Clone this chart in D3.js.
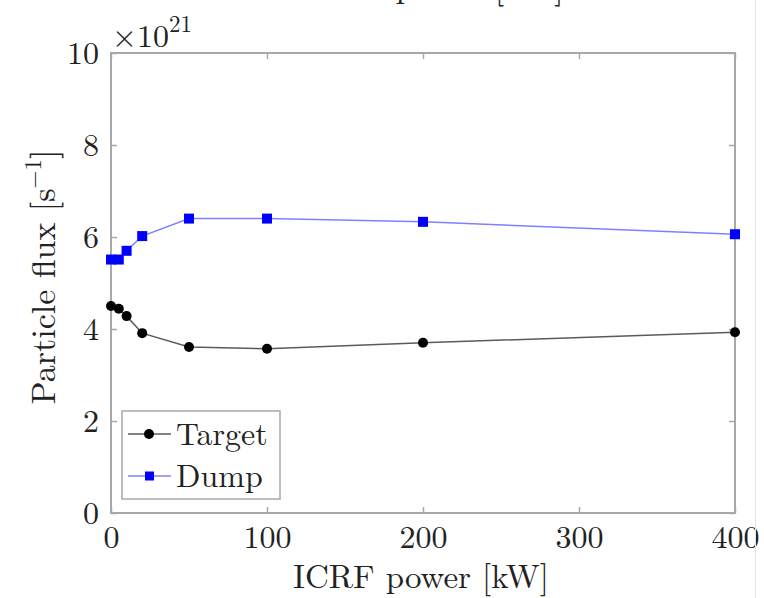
<!DOCTYPE html>
<html><head><meta charset="utf-8">
<script src="https://cdn.jsdelivr.net/npm/d3@7"></script>
<style>
html,body{margin:0;padding:0;background:#fff;}
svg text{font-family:"Latin Modern Roman","CMU Serif","Liberation Serif","DejaVu Serif",serif;fill:#222;}
</style></head>
<body>
<svg id="c" width="764" height="598"></svg>
<script>
const powerKW = [0, 5, 10, 20, 50, 100, 200, 400];
const targetFlux = [4.50, 4.44, 4.28, 3.91, 3.61, 3.57, 3.70, 3.93];
const dumpFlux = [5.51, 5.51, 5.70, 6.02, 6.40, 6.40, 6.33, 6.06];
const xTicks = [0, 100, 200, 300, 400];
const yTicks = [0, 2, 4, 6, 8, 10];
const seriesNames = ["Target", "Dump"];

const svg = d3.select("#c");
const L = 111, R = 735, T = 53, B = 513;
const x = d3.scaleLinear().domain([0, 400]).range([L, R]);
const y = d3.scaleLinear().domain([0, 10]).range([B, T]);
const axisCol = "#a8a8a8";

// cut-off text from the figure above (only its bottom shows)
svg.append("text").attr("x", 432).attr("y", -2).attr("text-anchor", "middle")
  .attr("font-size", 34).text("ICRF power [kW]");

// box
svg.append("rect").attr("x", L).attr("y", T).attr("width", R - L).attr("height", B - T)
  .attr("fill", "none").attr("stroke", axisCol).attr("stroke-width", 2);

function styleAxis(g) {
  g.select(".domain").remove();
  g.selectAll(".tick line").attr("stroke", axisCol).attr("stroke-width", 1.5);
  g.selectAll(".tick text").attr("font-size", 32).attr("fill", "#222");
}
svg.append("g").attr("transform", `translate(0,${B})`)
  .call(d3.axisBottom(x).tickValues(xTicks).tickSize(-6).tickPadding(12).tickFormat(d3.format("d")))
  .call(styleAxis).call(g => g.selectAll(".tick text").attr("dy", "0.71em"));
svg.append("g").attr("transform", `translate(0,${T})`)
  .call(d3.axisTop(x).tickValues(xTicks).tickSize(-6).tickFormat(""))
  .call(styleAxis);
svg.append("g").attr("transform", `translate(${L},0)`)
  .call(d3.axisLeft(y).tickValues(yTicks).tickSize(-6).tickPadding(12).tickFormat(d3.format("d")))
  .call(styleAxis);
svg.append("g").attr("transform", `translate(${R},0)`)
  .call(d3.axisRight(y).tickValues(yTicks).tickSize(-6).tickFormat(""))
  .call(styleAxis);

// exponent
const ex = svg.append("text").attr("x", 112).attr("y", 47).attr("font-size", 32);
ex.append("tspan").text("×10");
ex.append("tspan").attr("font-size", 23).attr("dy", -15).text("21");

// axis labels
svg.append("text").attr("x", 421).attr("y", 588).attr("text-anchor", "middle")
  .attr("font-size", 33).text("ICRF power [kW]");
const yl = svg.append("text").attr("transform", "translate(55,277) rotate(-90)")
  .attr("text-anchor", "middle").attr("font-size", 34);
yl.append("tspan").text("Particle flux [s");
yl.append("tspan").attr("font-size", 23).attr("dy", -14).text("−1");
yl.append("tspan").attr("dy", 14).text("]");

const line = d3.line().x((d, i) => x(powerKW[i])).y(d => y(d));

svg.append("path").datum(targetFlux).attr("d", line).attr("fill", "none")
  .attr("stroke", "#5a5a5a").attr("stroke-width", 1.5);
svg.selectAll(".tp").data(targetFlux).enter().append("circle")
  .attr("cx", (d, i) => x(powerKW[i])).attr("cy", d => y(d)).attr("r", 5).attr("fill", "#000");

svg.append("path").datum(dumpFlux).attr("d", line).attr("fill", "none")
  .attr("stroke", "#8080ff").attr("stroke-width", 1.5);
const s = 10;
svg.selectAll(".dp").data(dumpFlux).enter().append("rect")
  .attr("x", (d, i) => x(powerKW[i]) - s / 2).attr("y", d => y(d) - s / 2)
  .attr("width", s).attr("height", s).attr("fill", "#0000ff");

// legend
svg.append("rect").attr("x", 122).attr("y", 411).attr("width", 158).attr("height", 88)
  .attr("fill", "#fff").attr("stroke", axisCol).attr("stroke-width", 1.5);
const legY = [434, 476];
const legCol = ["#5a5a5a", "#8080ff"];
seriesNames.forEach((n, i) => {
  svg.append("line").attr("x1", 128).attr("x2", 171).attr("y1", legY[i]).attr("y2", legY[i])
    .attr("stroke", legCol[i]).attr("stroke-width", 1.5);
  if (i === 0) svg.append("circle").attr("cx", 149).attr("cy", legY[i]).attr("r", 5).attr("fill", "#000");
  else svg.append("rect").attr("x", 145).attr("y", legY[i] - 4.5).attr("width", 9).attr("height", 9).attr("fill", "#0000ff");
  svg.append("text").attr("x", 176).attr("y", legY[i]).attr("dy", "0.35em").attr("font-size", 32).text(n);
});

svg.append("line").attr("x1", 755.5).attr("x2", 755.5).attr("y1", 0).attr("y2", 598)
  .attr("stroke", "#e4e4e4").attr("stroke-width", 1);
</script>
</body></html>
